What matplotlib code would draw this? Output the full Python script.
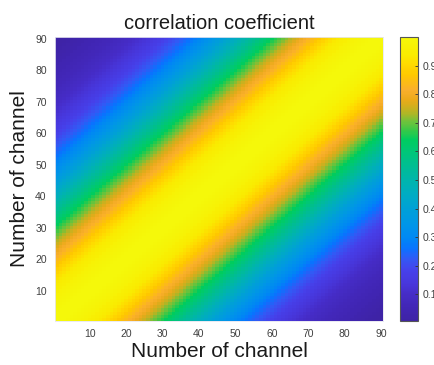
import numpy as np
import matplotlib
matplotlib.use("Agg")
import matplotlib.pyplot as plt
from matplotlib.colors import LinearSegmentedColormap

plt.rcParams['font.family'] = ['Liberation Sans', 'DejaVu Sans']

# correlation coefficient vs channel distance |i-j| (lag 0..89)
lag_corr = [
    1.000, 1.000, 0.998, 0.996, 0.992, 0.988, 0.982, 0.976, 0.969, 0.961,
    0.952, 0.942, 0.932, 0.920, 0.908, 0.895, 0.882, 0.867, 0.852, 0.837,
    0.821, 0.804, 0.787, 0.770, 0.752, 0.734, 0.716, 0.698, 0.679, 0.660,
    0.641, 0.622, 0.603, 0.584, 0.565, 0.546, 0.527, 0.509, 0.490, 0.472,
    0.454, 0.436, 0.419, 0.401, 0.384, 0.368, 0.352, 0.336, 0.321, 0.306,
    0.291, 0.277, 0.263, 0.250, 0.237, 0.225, 0.213, 0.201, 0.190, 0.180,
    0.169, 0.160, 0.150, 0.141, 0.132, 0.124, 0.116, 0.109, 0.102, 0.095,
    0.089, 0.083, 0.077, 0.072, 0.067, 0.062, 0.058, 0.054, 0.050, 0.046,
    0.042, 0.038, 0.034, 0.030, 0.026, 0.022, 0.018, 0.014, 0.010, 0.007,
]
n_channel = 90
x_ticks = [10, 20, 30, 40, 50, 60, 70, 80, 90]
cbar_ticks = [0.1, 0.2, 0.3, 0.4, 0.5, 0.6, 0.7, 0.8, 0.9]

# colour stops sampled from the colorbar
cmap_pos = [0.0, 0.044, 0.096, 0.131, 0.177, 0.219, 0.254, 0.289, 0.34, 0.394,
            0.446, 0.5, 0.55, 0.604, 0.639, 0.674, 0.702, 0.737, 0.779, 0.814,
            0.867, 0.909, 0.937, 1.0]
cmap_rgb = [(62, 35, 165), (65, 38, 180), (70, 45, 200), (72, 55, 220), (70, 65, 235),
            (50, 90, 245), (10, 115, 255), (0, 135, 245), (0, 150, 232), (0, 160, 215),
            (0, 172, 195), (0, 182, 170), (0, 190, 145), (0, 200, 115), (0, 205, 95),
            (60, 200, 70), (110, 195, 60), (185, 180, 35), (235, 170, 25), (250, 175, 45),
            (255, 200, 0), (255, 220, 0), (250, 235, 0), (245, 248, 10)]

cmap = LinearSegmentedColormap.from_list(
    "corr", list(zip(cmap_pos, [tuple(c / 255 for c in rgb) for rgb in cmap_rgb])), N=256)

idx = np.arange(n_channel)
corr = np.array(lag_corr)[np.abs(idx[:, None] - idx[None, :])]

fig = plt.figure(figsize=(4.35, 3.65), dpi=100)
ax = fig.add_axes([55 / 435, 1 - 321 / 365, 328 / 435, 284 / 365])
im = ax.imshow(corr, cmap=cmap, origin='lower', aspect='auto', interpolation='nearest',
               extent=[0.5, n_channel + 0.5, 0.5, n_channel + 0.5],
               vmin=corr.min(), vmax=corr.max())
ax.set_xticks(x_ticks)
ax.set_yticks(x_ticks)
ax.tick_params(length=0, labelsize=7.5, labelcolor='#404040', pad=6)
for s in ax.spines.values():
    s.set_color('#e6e6f0')
    s.set_linewidth(0.6)
ax.set_xlabel("Number of channel", fontsize=15, color='#1a1a1a', labelpad=2)
ax.set_ylabel("Number of channel", fontsize=15, color='#1a1a1a', labelpad=4)
ax.set_title("correlation coefficient", fontsize=14.5, color='#1a1a1a', pad=6)

cax = fig.add_axes([400 / 435, 1 - 321 / 365, 18 / 435, 284 / 365])
cb = fig.colorbar(im, cax=cax, ticks=cbar_ticks)
cb.ax.tick_params(direction='in', length=2.5, width=0.6, color='#333333',
                  labelsize=7.5, labelcolor='#404040', pad=3)
cb.outline.set_edgecolor('#555555')
cb.outline.set_linewidth(0.8)

fig.savefig("out.png", dpi=100)
